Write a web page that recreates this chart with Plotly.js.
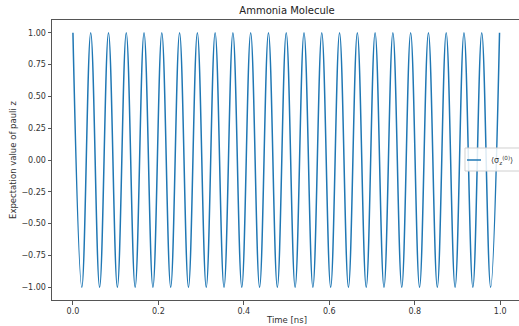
<!DOCTYPE html>
<html>
<head>
<meta charset="utf-8">
<script src="https://cdn.plot.ly/plotly-3.0.1.min.js"></script>
<style>
html,body{margin:0;padding:0;overflow:hidden;background:#fff;width:519px;height:326px;}
#chart{width:560px;height:326px;}
</style>
</head>
<body>
<div id="chart"></div>
<script>
// Extrema of <sigma_z^(0)> (time in ns)
const timeNs = [
  0.0000, 0.0208, 0.0416, 0.0624, 0.0832, 0.1040, 0.1248, 0.1456, 0.1664, 0.1872,
  0.2080, 0.2288, 0.2496, 0.2704, 0.2912, 0.3120, 0.3328, 0.3536, 0.3744, 0.3952,
  0.4160, 0.4368, 0.4576, 0.4784, 0.4992, 0.5200, 0.5408, 0.5616, 0.5824, 0.6032,
  0.6240, 0.6448, 0.6656, 0.6864, 0.7072, 0.7280, 0.7488, 0.7696, 0.7904, 0.8112,
  0.8320, 0.8528, 0.8736, 0.8944, 0.9152, 0.9360, 0.9568, 0.9776, 0.9984
];
const sigmaZ = [
  1, -1, 1, -1, 1, -1, 1, -1, 1, -1,
  1, -1, 1, -1, 1, -1, 1, -1, 1, -1,
  1, -1, 1, -1, 1, -1, 1, -1, 1, -1,
  1, -1, 1, -1, 1, -1, 1, -1, 1, -1,
  1, -1, 1, -1, 1, -1, 1, -1, 1
];
const yTickVals = [-1.0, -0.75, -0.5, -0.25, 0.0, 0.25, 0.5, 0.75, 1.0];
const xTickVals = [0.0, 0.2, 0.4, 0.6, 0.8, 1.0];
const seriesName = '⟨σ<sub>z</sub><sup>(0)</sup>⟩';
const lineColor = '#1f77b4';

const trace = {
  x: timeNs,
  y: sigmaZ,
  type: 'scatter',
  mode: 'lines',
  name: seriesName,
  showlegend: false,
  line: {color: lineColor, width: 1.5, shape: 'spline', smoothing: 1.1}
};

const axisCommon = {
  showline: true, mirror: true, linecolor: '#555', linewidth: 1,
  ticks: 'outside', ticklen: 3.5, tickcolor: '#555', tickwidth: 1,
  showgrid: false, zeroline: false,
  tickfont: {family: 'DejaVu Sans', size: 8, color: '#333'}
};

// Legend drawn in paper coordinates (matplotlib "center right" style box)
const legendShapes = [
  {type: 'rect', xref: 'paper', yref: 'paper', x0: 0.8787, x1: 1.03, y0: 0.4607, y1: 0.5429,
   line: {color: '#d0d0d0', width: 1}, fillcolor: 'rgba(255,255,255,0.85)', layer: 'above'},
  {type: 'line', xref: 'paper', yref: 'paper', x0: 0.883, x1: 0.9128, y0: 0.5, y1: 0.5,
   line: {color: lineColor, width: 1.5}, layer: 'above'}
];
const legendText = [
  {xref: 'paper', yref: 'paper', x: 0.930, y: 0.5, xanchor: 'left', yanchor: 'middle',
   text: seriesName, showarrow: false,
   font: {family: 'DejaVu Sans', size: 8, color: '#333'}}
];

const layout = {
  width: 560, height: 326,
  margin: {l: 52, r: 38, t: 20, b: 26},
  paper_bgcolor: '#fff', plot_bgcolor: '#fff',
  title: {text: 'Ammonia Molecule', font: {family: 'DejaVu Sans', size: 10, color: '#222'},
          x: 0.5, xref: 'paper', y: 1, yref: 'paper', yanchor: 'bottom', pad: {b: 6}},
  xaxis: Object.assign({}, axisCommon, {
    range: [-0.049, 1.051], tickvals: xTickVals, tickformat: '.1f',
    title: {text: 'Time [ns]', font: {family: 'DejaVu Sans', size: 8.5, color: '#333'}, standoff: 1}
  }),
  yaxis: Object.assign({}, axisCommon, {
    range: [-1.1, 1.1], tickvals: yTickVals, tickformat: '.2f',
    title: {text: 'Expectation value of pauli z', font: {family: 'DejaVu Sans', size: 8.5, color: '#333'}, standoff: 3}
  }),
  showlegend: false,
  shapes: legendShapes,
  annotations: legendText
};

Plotly.newPlot('chart', [trace], layout, {displayModeBar: false, staticPlot: true});
</script>
</body>
</html>
